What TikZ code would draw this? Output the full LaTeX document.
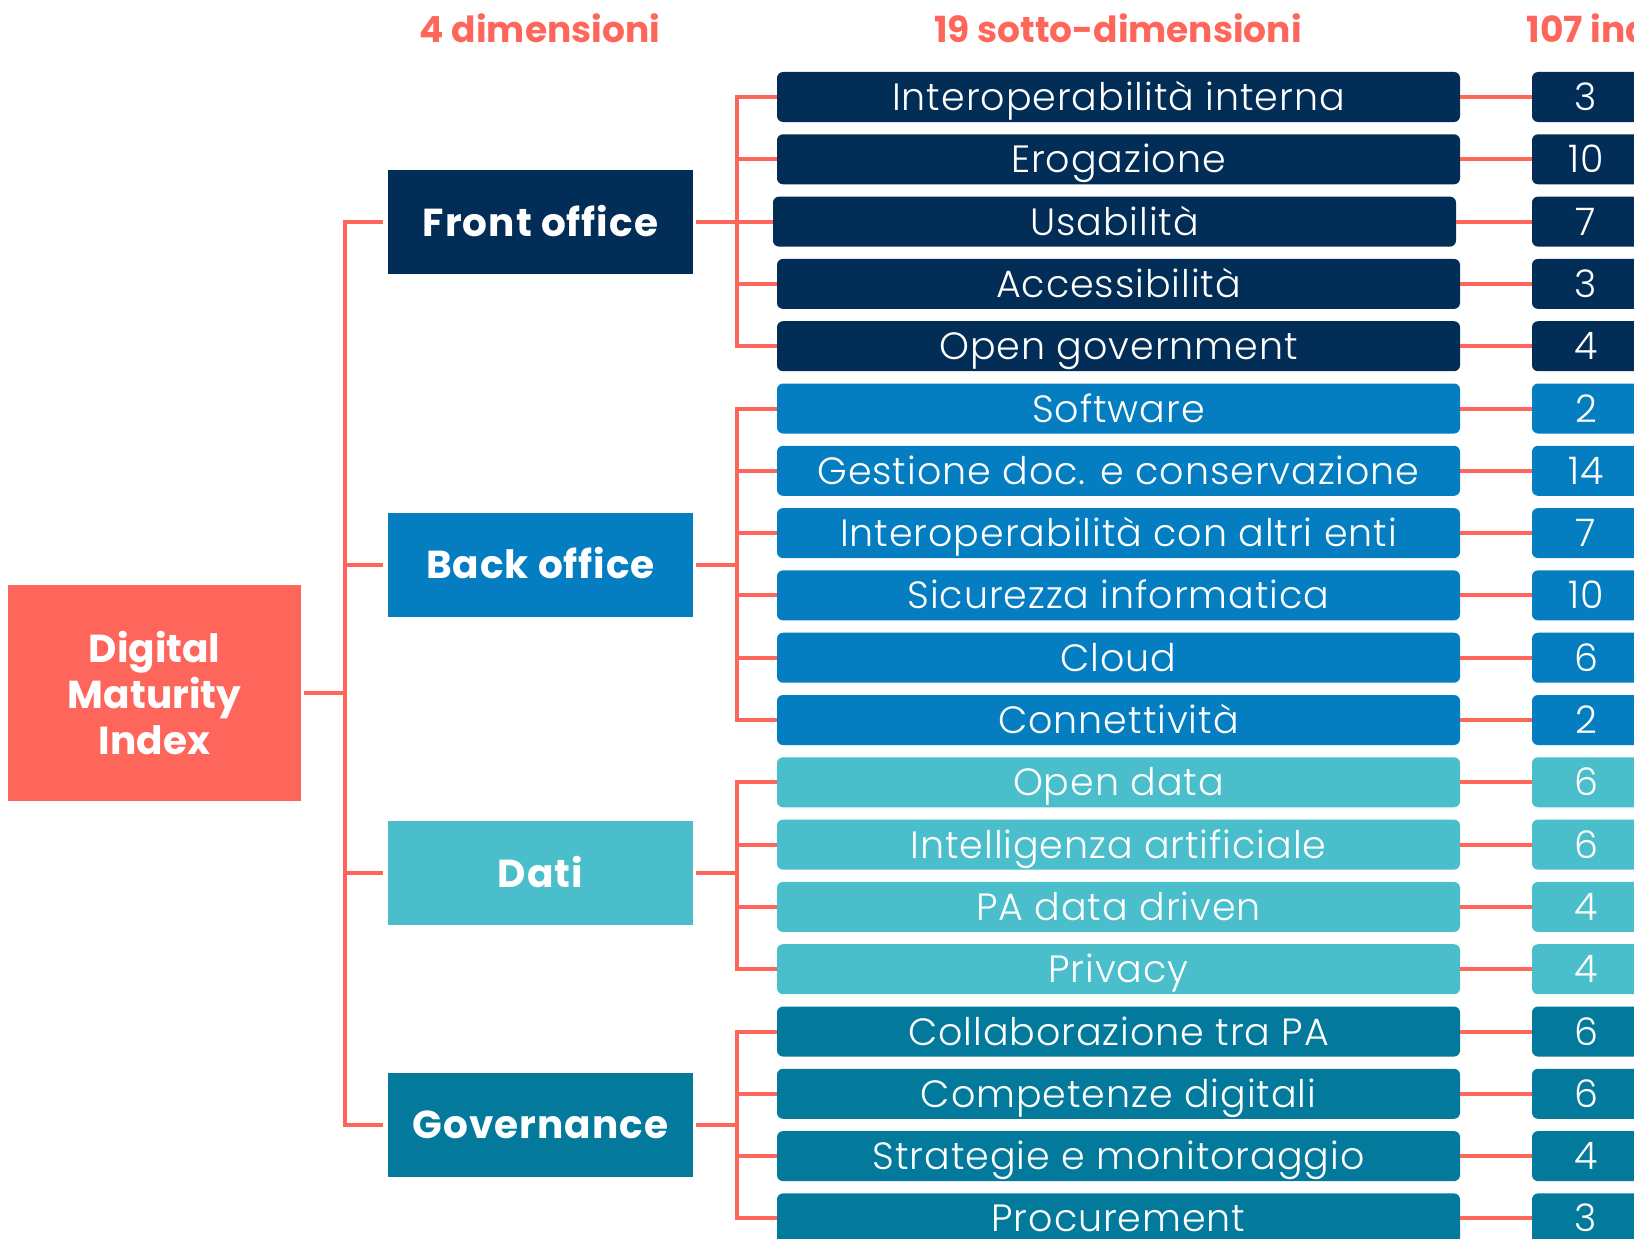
\documentclass[tikz,border=0pt]{standalone}
\usepackage{fontspec}
\setmainfont{Poppins}
\IfFontExistsTF{Poppins Light}{\newfontfamily\lightfont{Poppins Light}[LetterSpace=2.5]}{\newfontfamily\lightfont{Poppins}[LetterSpace=2.5]}
\newfontfamily\widefont{Poppins}[LetterSpace=2.5]
\definecolor{coral}{HTML}{FF665B}
\definecolor{navy}{HTML}{022D56}
\definecolor{ocean}{HTML}{047EC1}
\definecolor{aqua}{HTML}{4ABFCB}
\definecolor{petrol}{HTML}{037A9B}

\begin{document}
\begin{tikzpicture}
  [x=1pt,y=-1pt,
   box/.style={inner sep=0pt,text=white,align=center},
   dmibox/.style={box,fill=coral,minimum width=293pt,minimum height=216pt,font=\bfseries\fontsize{39}{46}\selectfont},
   dimbox/.style={box,minimum width=305pt,minimum height=104pt,text height=28pt,text depth=0pt,font=\widefont\bfseries\fontsize{39}{40}\selectfont},
   subbox/.style={box,rounded corners=6pt,minimum width=683pt,minimum height=50pt,text height=27pt,text depth=0pt,font=\lightfont\fontsize{38}{40}\selectfont},
   numbox/.style={subbox,minimum width=108pt},
   head/.style={anchor=base,text=coral,font=\bfseries\fontsize{36}{40}\selectfont},
   link/.style={draw=coral,line width=4pt}]
  \useasboundingbox (0,0) rectangle (1634,1239);
  \clip (0,0) rectangle (1634,1239);

  \node[head] (hdim) at (540,43) {4 dimensioni};
  \node[head] (hsub) at (1118,43) {19 sotto-dimensioni};
  \node[head,anchor=base west] (hind) at (1523,43) {107 indicatori};

  \node[dmibox] (dmi) at (154.5,693) {Digital\\Maturity\\Index};
  \node[dimbox,fill=navy] (front) at (540.5,222) {Front office};
  \node[dimbox,fill=ocean] (back) at (540.5,564.5) {Back office};
  \node[dimbox,fill=aqua] (dati) at (540.5,873) {Dati};
  \node[dimbox,fill=petrol] (gov) at (540.5,1124.5) {Governance};

  \foreach \i/\txt/\col/\val/\dx in {
    1/Interoperabilità interna/navy/3/0, 2/Erogazione/navy/10/0,
    3/Usabilità/navy/7/-4, 4/Accessibilità/navy/3/0,
    5/Open government/navy/4/0, 6/Software/ocean/2/0,
    7/Gestione doc. e conservazione/ocean/14/0,
    8/Interoperabilità con altri enti/ocean/7/0,
    9/Sicurezza informatica/ocean/10/0, 10/Cloud/ocean/6/0,
    11/Connettività/ocean/2/0, 12/Open data/aqua/6/0,
    13/Intelligenza artificiale/aqua/6/0, 14/PA data driven/aqua/4/0,
    15/Privacy/aqua/4/0, 16/Collaborazione tra PA/petrol/6/0,
    17/Competenze digitali/petrol/6/0,
    18/Strategie e monitoraggio/petrol/4/0, 19/Procurement/petrol/3/0}{
    \node[subbox,fill=\col] (s\i) at ({1118.5+\dx},{97+62.3*(\i-1)}) {\txt};
    \node[numbox,fill=\col] (n\i) at (1586,{97+62.3*(\i-1)}) {\val};
    \draw[link] (s\i) -- (n\i);
  }

  \coordinate (trunk) at (345,0);
  \coordinate (bar) at (737,0);
  \draw[link] ([xshift=3pt]dmi.east) -- (trunk |- dmi);
  \draw[link,line cap=rect] (trunk |- front) -- (trunk |- gov);
  \foreach \d in {front,back,dati,gov}
    \draw[link] (trunk |- \d) -- ([xshift=-5pt]\d.west);

  \foreach \d/\a/\b in {front/1/5,back/6/11,dati/12/15,gov/16/19}{
    \draw[link] ([xshift=3pt]\d.east) -- (bar |- \d);
    \draw[link,line cap=rect] (bar |- s\a) -- (bar |- s\b);
    \foreach \k in {\a,...,\b}
      \draw[link] (bar |- s\k) -- (s\k.west);
  }
\end{tikzpicture}
\end{document}
